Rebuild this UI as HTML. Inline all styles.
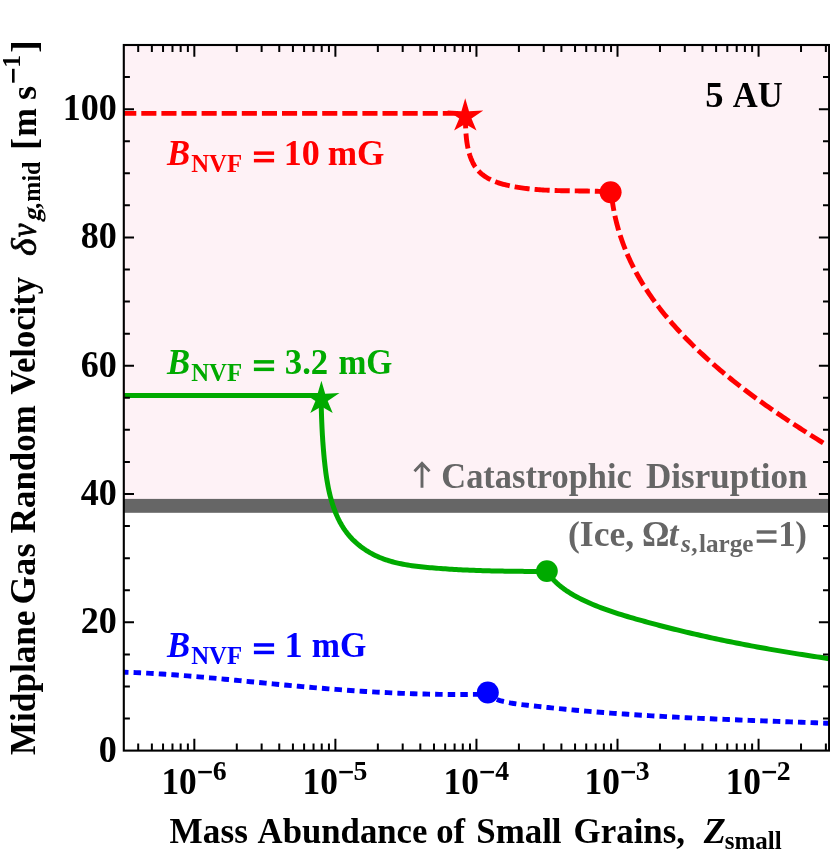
<!DOCTYPE html>
<html><head><meta charset="utf-8"><title>chart</title>
<style>html,body{margin:0;padding:0;background:#fff;overflow:hidden;}svg{display:block;will-change:transform;font-family:"Liberation Serif",serif;font-weight:bold;}</style></head><body>
<svg width="830" height="851" viewBox="0 0 830 851">
<rect x="0" y="0" width="830" height="851" fill="#fff"/>
<rect x="123.8" y="45" width="705.3" height="454.9" fill="#fef2f6"/>
<rect x="123.8" y="498.9" width="705.3" height="13.9" fill="#666"/>
<g fill="#666">
<path d="M422 487.7 V464.2 M414.5 471.2 L422 463.3 L429.5 471.2" fill="none" stroke="#666" stroke-width="2.9" stroke-linejoin="miter"/>
<text transform="translate(441.32 488) scale(0.9831 1)" font-size="35">Catastrophic</text>
<text transform="translate(646.08 488) scale(1.0001 1)" font-size="35">Disruption</text>
<text transform="translate(568.04 545.8) scale(1.0157 1)" font-size="35">(Ice,</text>
<text transform="translate(642.04 545.8) scale(0.9806 1)" font-size="35">Ω</text>
<text x="668.64" y="545.8" font-size="35" font-style="italic">t</text>
<text x="680.94" y="551.8" font-size="25.2" font-style="italic">s</text>
<text x="691.27" y="551.8" font-size="25.2">,</text>
<text transform="translate(699.01 551.8) scale(0.9995 1)" font-size="25.2">large</text>
<rect x="756.7" y="530.3" width="19.8" height="3.4"/>
<rect x="756.7" y="539.4" width="19.8" height="3.4"/>
<text x="778.2" y="545.8" font-size="35">1</text>
<text x="795.37" y="545.8" font-size="35">)</text>
</g>
<clipPath id="cp"><rect x="123.8" y="45" width="705.3" height="705.6"/></clipPath>
<g fill="none" stroke-linejoin="round" clip-path="url(#cp)">
<path d="M121 113.4 H465.2" stroke="#f00" stroke-width="4.9" stroke-dasharray="15.1 5" stroke-dashoffset="19.9"/>
<path d="M465.2 113.4 L465.25 115.1 L465.3 116.69 L465.35 118.28 L465.39 119.88 L465.44 121.49 L465.49 123.12 L465.54 124.74 L465.6 126.38 L465.67 128.02 L465.75 129.67 L465.84 131.33 L465.95 132.99 L466.07 134.65 L466.22 136.32 L466.38 137.99 L466.57 139.67 L466.78 141.34 L467.02 143.02 L467.29 144.7 L467.59 146.37 L467.93 148.05 L468.3 149.73 L468.71 151.4 L469.16 153.06 L469.65 154.71 L470.18 156.34 L470.75 157.94 L471.37 159.52 L472.04 161.06 L472.76 162.57 L473.52 164.04 L474.34 165.46 L475.21 166.82 L476.14 168.13 L477.12 169.38 L478.15 170.58 L479.24 171.72 L480.37 172.81 L481.55 173.84 L482.77 174.83 L484.03 175.77 L485.34 176.66 L486.68 177.5 L488.06 178.3 L489.47 179.06 L490.91 179.78 L492.39 180.46 L493.89 181.11 L495.41 181.71 L496.96 182.29 L498.53 182.83 L500.12 183.34 L501.73 183.82 L503.35 184.27 L504.98 184.7 L506.62 185.1 L508.27 185.48 L509.93 185.84 L511.6 186.18 L513.26 186.5 L514.93 186.8 L516.59 187.09 L518.25 187.36 L519.91 187.62 L521.57 187.87 L523.23 188.1 L524.88 188.32 L526.54 188.52 L528.19 188.72 L529.84 188.9 L531.49 189.07 L533.14 189.23 L534.79 189.38 L536.43 189.52 L538.08 189.65 L539.73 189.77 L541.37 189.88 L543.01 189.98 L544.66 190.08 L546.3 190.17 L547.94 190.25 L549.58 190.32 L551.22 190.39 L552.86 190.45 L554.51 190.5 L556.15 190.55 L557.79 190.6 L559.43 190.64 L561.07 190.68 L562.71 190.71 L564.35 190.74 L565.99 190.77 L567.63 190.79 L569.28 190.81 L570.92 190.84 L572.56 190.86 L574.21 190.88 L575.85 190.9 L577.5 190.92 L579.14 190.94 L580.79 190.96 L582.44 190.98 L584.09 191.01 L585.74 191.04 L587.39 191.06 L589.04 191.1 L590.7 191.13 L592.35 191.17 L594.01 191.22 L595.67 191.27 L597.33 191.32 L598.99 191.38 L600.66 191.45 L602.32 191.52 L603.99 191.6 L605.66 191.69 L607.34 191.78 L609.01 191.88 L610.6 191.8 L611.48 194.37 L611.82 197.33 L612.19 200.28 L612.61 203.21 L613.08 206.13 L613.58 209.04 L614.13 211.93 L614.71 214.81 L615.34 217.67 L616.01 220.52 L616.71 223.35 L617.46 226.17 L618.24 228.98 L619.06 231.77 L619.93 234.54 L620.82 237.3 L621.76 240.05 L622.73 242.77 L623.74 245.49 L624.78 248.18 L625.86 250.86 L626.98 253.53 L628.12 256.17 L629.31 258.81 L630.52 261.42 L631.77 264.02 L633.05 266.6 L634.37 269.16 L635.71 271.71 L637.09 274.24 L638.5 276.75 L639.94 279.24 L641.41 281.72 L642.9 284.18 L644.43 286.62 L645.99 289.05 L647.57 291.46 L649.18 293.85 L650.81 296.23 L652.47 298.59 L654.16 300.94 L655.87 303.27 L657.6 305.58 L659.36 307.88 L661.14 310.16 L662.94 312.42 L664.76 314.67 L666.61 316.91 L668.47 319.13 L670.36 321.33 L672.26 323.52 L674.18 325.7 L676.12 327.86 L678.08 330 L680.06 332.13 L682.05 334.25 L684.05 336.35 L686.08 338.44 L688.11 340.51 L690.16 342.57 L692.23 344.62 L694.3 346.65 L696.39 348.67 L698.49 350.68 L700.61 352.67 L702.73 354.65 L704.87 356.62 L707.01 358.57 L709.17 360.51 L711.34 362.44 L713.52 364.35 L715.71 366.26 L717.91 368.15 L720.12 370.03 L722.33 371.9 L724.56 373.76 L726.8 375.6 L729.05 377.44 L731.3 379.26 L733.57 381.08 L735.84 382.88 L738.12 384.67 L740.41 386.45 L742.71 388.23 L745.02 389.99 L747.33 391.74 L749.65 393.48 L751.98 395.21 L754.32 396.94 L756.66 398.65 L759.01 400.36 L761.37 402.06 L763.73 403.74 L766.1 405.42 L768.47 407.1 L770.85 408.76 L773.24 410.41 L775.63 412.06 L778.03 413.7 L780.43 415.34 L782.84 416.96 L785.25 418.58 L787.66 420.19 L790.08 421.8 L792.51 423.39 L794.94 424.98 L797.37 426.57 L799.8 428.15 L802.24 429.72 L804.68 431.29 L807.13 432.85 L809.58 434.41 L812.03 435.96 L814.48 437.5 L816.93 439.04 L819.39 440.58 L821.85 442.11 L824.31 443.64 L827 444.9" stroke="#f00" stroke-width="4.9" stroke-dasharray="15.1 5" stroke-dashoffset="0"/>
<path d="M121 395.4 L321.4 395.4 L321.06 397.59 L321.1 399.85 L321.15 402.1 L321.2 404.34 L321.25 406.57 L321.31 408.79 L321.37 411.01 L321.44 413.21 L321.51 415.41 L321.58 417.61 L321.67 419.8 L321.75 421.98 L321.85 424.16 L321.94 426.34 L322.05 428.52 L322.16 430.69 L322.28 432.87 L322.4 435.04 L322.54 437.21 L322.67 439.39 L322.82 441.57 L322.98 443.75 L323.14 445.93 L323.31 448.12 L323.49 450.31 L323.68 452.51 L323.87 454.71 L324.08 456.92 L324.29 459.14 L324.52 461.36 L324.76 463.59 L325 465.83 L325.27 468.07 L325.54 470.32 L325.83 472.56 L326.14 474.81 L326.47 477.05 L326.82 479.29 L327.19 481.53 L327.58 483.76 L327.99 485.99 L328.43 488.21 L328.89 490.42 L329.38 492.62 L329.9 494.81 L330.45 496.99 L331.03 499.15 L331.64 501.3 L332.28 503.43 L332.96 505.55 L333.67 507.64 L334.42 509.72 L335.2 511.77 L336.03 513.81 L336.89 515.81 L337.8 517.8 L338.75 519.75 L339.74 521.68 L340.78 523.58 L341.87 525.45 L343 527.29 L344.18 529.09 L345.41 530.86 L346.69 532.6 L348.03 534.3 L349.41 535.96 L350.86 537.58 L352.35 539.16 L353.9 540.7 L355.51 542.2 L357.16 543.66 L358.85 545.07 L360.59 546.44 L362.37 547.76 L364.18 549.03 L366.04 550.26 L367.92 551.44 L369.84 552.57 L371.79 553.65 L373.76 554.69 L375.75 555.66 L377.76 556.59 L379.8 557.47 L381.85 558.29 L383.92 559.07 L386.01 559.8 L388.11 560.49 L390.22 561.13 L392.35 561.74 L394.5 562.31 L396.65 562.84 L398.82 563.33 L400.99 563.79 L403.18 564.22 L405.37 564.62 L407.57 565 L409.78 565.35 L411.99 565.67 L414.21 565.97 L416.43 566.26 L418.66 566.52 L420.89 566.77 L423.11 567 L425.34 567.22 L427.57 567.43 L429.8 567.64 L432.02 567.83 L434.24 568.02 L436.46 568.2 L438.68 568.37 L440.89 568.54 L443.11 568.7 L445.32 568.86 L447.53 569 L449.73 569.15 L451.94 569.28 L454.15 569.41 L456.35 569.54 L458.55 569.66 L460.76 569.77 L462.96 569.88 L465.16 569.99 L467.36 570.09 L469.56 570.18 L471.75 570.27 L473.95 570.35 L476.15 570.44 L478.35 570.51 L480.54 570.58 L482.74 570.65 L484.94 570.72 L487.14 570.78 L489.34 570.84 L491.53 570.89 L493.73 570.94 L495.93 570.99 L498.13 571.03 L500.34 571.08 L502.54 571.11 L504.74 571.15 L506.95 571.19 L509.15 571.22 L511.36 571.25 L513.57 571.27 L515.78 571.3 L518 571.32 L520.21 571.35 L522.43 571.37 L524.65 571.39 L526.87 571.4 L529.09 571.42 L531.31 571.44 L533.54 571.45 L535.77 571.47 L538.01 571.48 L540.24 571.49 L542.48 571.51 L544.73 571.52 L546.9 571.5 L548.6 574.1 L550.51 576.53 L552.53 578.85 L554.62 581.05 L556.81 583.14 L559.06 585.13 L561.39 587.03 L563.79 588.83 L566.24 590.55 L568.74 592.2 L571.3 593.78 L573.89 595.29 L576.52 596.75 L579.18 598.15 L581.86 599.51 L584.57 600.82 L587.31 602.1 L590.06 603.33 L592.84 604.52 L595.64 605.67 L598.45 606.79 L601.28 607.88 L604.13 608.93 L606.99 609.96 L609.87 610.96 L612.76 611.93 L615.65 612.88 L618.56 613.81 L621.47 614.72 L624.39 615.61 L627.32 616.48 L630.25 617.35 L633.18 618.2 L636.12 619.04 L639.05 619.87 L641.99 620.69 L644.92 621.51 L647.86 622.31 L650.8 623.11 L653.74 623.9 L656.67 624.68 L659.61 625.46 L662.55 626.22 L665.5 626.98 L668.44 627.73 L671.38 628.47 L674.32 629.21 L677.27 629.93 L680.21 630.65 L683.16 631.36 L686.11 632.07 L689.06 632.77 L692 633.46 L694.96 634.14 L697.91 634.81 L700.86 635.48 L703.81 636.14 L706.77 636.8 L709.72 637.45 L712.68 638.09 L715.64 638.72 L718.6 639.35 L721.56 639.97 L724.52 640.59 L727.49 641.19 L730.45 641.8 L733.42 642.39 L736.38 642.98 L739.35 643.57 L742.32 644.14 L745.3 644.72 L748.27 645.28 L751.24 645.84 L754.22 646.4 L757.2 646.95 L760.18 647.49 L763.16 648.03 L766.14 648.56 L769.13 649.09 L772.11 649.61 L775.1 650.13 L778.09 650.64 L781.08 651.15 L784.07 651.65 L787.07 652.15 L790.06 652.64 L793.06 653.13 L796.06 653.62 L799.06 654.1 L802.07 654.57 L805.07 655.04 L808.08 655.51 L811.09 655.97 L814.1 656.43 L817.12 656.88 L820.13 657.33 L823.15 657.78 L826.17 658.22 L829.1 658.8" stroke="#0a0" stroke-width="5"/>
<path d="M121 672.4 L124.73 672.21 L128.44 672.33 L132.15 672.47 L135.86 672.63 L139.57 672.79 L143.28 672.97 L146.99 673.16 L150.7 673.36 L154.4 673.58 L158.11 673.8 L161.81 674.03 L165.52 674.28 L169.22 674.53 L172.92 674.79 L176.63 675.06 L180.33 675.34 L184.03 675.63 L187.73 675.92 L191.43 676.22 L195.13 676.53 L198.83 676.84 L202.53 677.16 L206.23 677.49 L209.93 677.82 L213.63 678.15 L217.32 678.49 L221.02 678.84 L224.72 679.19 L228.42 679.54 L232.11 679.89 L235.81 680.25 L239.51 680.6 L243.2 680.96 L246.9 681.32 L250.6 681.69 L254.29 682.05 L257.99 682.41 L261.69 682.77 L265.38 683.14 L269.08 683.5 L272.78 683.85 L276.48 684.21 L280.17 684.57 L283.87 684.92 L287.57 685.27 L291.27 685.61 L294.96 685.96 L298.66 686.29 L302.36 686.63 L306.06 686.96 L309.76 687.28 L313.46 687.6 L317.16 687.91 L320.86 688.22 L324.56 688.52 L328.26 688.82 L331.96 689.11 L335.66 689.39 L339.37 689.67 L343.07 689.94 L346.77 690.21 L350.48 690.47 L354.18 690.72 L357.88 690.97 L361.59 691.2 L365.29 691.44 L369 691.66 L372.7 691.88 L376.41 692.09 L380.12 692.29 L383.82 692.48 L387.53 692.67 L391.24 692.85 L394.95 693.02 L398.66 693.18 L402.37 693.33 L406.08 693.47 L409.79 693.61 L413.5 693.73 L417.21 693.85 L420.92 693.96 L424.63 694.05 L428.35 694.14 L432.06 694.22 L435.78 694.29 L439.49 694.35 L443.2 694.39 L446.92 694.43 L450.64 694.46 L454.35 694.48 L458.07 694.48 L461.79 694.48 L465.51 694.46 L469.23 694.43 L472.95 694.4 L476.67 694.35 L480.39 694.28 L484.11 694.21 L487.8 694.6 L490.56 696.79 L493.67 698.24 L496.84 699.49 L500.08 700.56 L503.38 701.48 L506.73 702.26 L510.11 702.93 L513.53 703.5 L516.97 704 L520.43 704.45 L523.9 704.86 L527.37 705.26 L530.84 705.65 L534.3 706.04 L537.77 706.42 L541.23 706.8 L544.69 707.16 L548.15 707.53 L551.62 707.89 L555.08 708.24 L558.54 708.58 L562 708.92 L565.45 709.26 L568.91 709.58 L572.37 709.91 L575.83 710.22 L579.29 710.53 L582.75 710.84 L586.21 711.14 L589.67 711.43 L593.13 711.72 L596.59 712 L600.06 712.28 L603.52 712.55 L606.98 712.81 L610.45 713.07 L613.91 713.33 L617.37 713.58 L620.84 713.82 L624.3 714.06 L627.77 714.3 L631.24 714.53 L634.7 714.76 L638.17 714.98 L641.64 715.2 L645.1 715.41 L648.57 715.62 L652.04 715.83 L655.51 716.03 L658.98 716.23 L662.45 716.42 L665.91 716.61 L669.38 716.8 L672.85 716.98 L676.32 717.16 L679.79 717.34 L683.27 717.51 L686.74 717.69 L690.21 717.85 L693.68 718.02 L697.15 718.18 L700.62 718.34 L704.09 718.5 L707.57 718.65 L711.04 718.81 L714.51 718.96 L717.98 719.11 L721.45 719.25 L724.93 719.4 L728.4 719.54 L731.87 719.68 L735.34 719.82 L738.82 719.96 L742.29 720.09 L745.76 720.23 L749.24 720.36 L752.71 720.5 L756.18 720.63 L759.66 720.76 L763.13 720.89 L766.6 721.02 L770.07 721.14 L773.55 721.27 L777.02 721.4 L780.49 721.53 L783.96 721.65 L787.44 721.78 L790.91 721.91 L794.38 722.04 L797.85 722.16 L801.33 722.29 L804.8 722.42 L808.27 722.55 L811.74 722.67 L815.21 722.8 L818.68 722.93 L822.15 723.06 L825.62 723.2 L829.1 723.3" stroke="#00f" stroke-width="4.9" stroke-dasharray="7.5 5.1" stroke-dashoffset="0"/>
</g>
<polygon points="465.2,98.3 469,111.3 483.3,110.5 471.5,118.6 476.5,130.5 465.2,124 454.1,130.6 459.2,118.6 447.3,110.5 461.4,111.3" fill="#f00"/>
<circle cx="610.6" cy="192.2" r="11" fill="#f00"/>
<polygon points="321.4,380.7 325.2,393.7 339.5,392.9 327.7,401 332.7,412.9 321.4,406.4 310.3,413 315.4,401 303.5,392.9 317.6,393.7" fill="#0a0"/>
<circle cx="546.9" cy="571.1" r="10.9" fill="#0a0"/>
<circle cx="487.8" cy="692.5" r="11" fill="#00f"/>
<path d="M138.2 750.6 v-7 M138.2 45 v7 M151.87 750.6 v-7 M151.87 45 v7 M163.04 750.6 v-7 M163.04 45 v7 M172.48 750.6 v-7 M172.48 45 v7 M180.66 750.6 v-7 M180.66 45 v7 M187.88 750.6 v-7 M187.88 45 v7 M194.33 750.6 v-11.8 M194.33 45 v11.8 M236.79 750.6 v-7 M236.79 45 v7 M261.63 750.6 v-7 M261.63 45 v7 M279.26 750.6 v-7 M279.26 45 v7 M292.93 750.6 v-7 M292.93 45 v7 M304.1 750.6 v-7 M304.1 45 v7 M313.54 750.6 v-7 M313.54 45 v7 M321.72 750.6 v-7 M321.72 45 v7 M328.94 750.6 v-7 M328.94 45 v7 M335.39 750.6 v-11.8 M335.39 45 v11.8 M377.85 750.6 v-7 M377.85 45 v7 M402.69 750.6 v-7 M402.69 45 v7 M420.32 750.6 v-7 M420.32 45 v7 M433.99 750.6 v-7 M433.99 45 v7 M445.16 750.6 v-7 M445.16 45 v7 M454.6 750.6 v-7 M454.6 45 v7 M462.78 750.6 v-7 M462.78 45 v7 M470 750.6 v-7 M470 45 v7 M476.45 750.6 v-11.8 M476.45 45 v11.8 M518.91 750.6 v-7 M518.91 45 v7 M543.75 750.6 v-7 M543.75 45 v7 M561.38 750.6 v-7 M561.38 45 v7 M575.05 750.6 v-7 M575.05 45 v7 M586.22 750.6 v-7 M586.22 45 v7 M595.66 750.6 v-7 M595.66 45 v7 M603.84 750.6 v-7 M603.84 45 v7 M611.06 750.6 v-7 M611.06 45 v7 M617.51 750.6 v-11.8 M617.51 45 v11.8 M659.97 750.6 v-7 M659.97 45 v7 M684.81 750.6 v-7 M684.81 45 v7 M702.44 750.6 v-7 M702.44 45 v7 M716.11 750.6 v-7 M716.11 45 v7 M727.28 750.6 v-7 M727.28 45 v7 M736.72 750.6 v-7 M736.72 45 v7 M744.9 750.6 v-7 M744.9 45 v7 M752.12 750.6 v-7 M752.12 45 v7 M758.57 750.6 v-11.8 M758.57 45 v11.8 M801.03 750.6 v-7 M801.03 45 v7 M825.87 750.6 v-7 M825.87 45 v7 M123.8 718.53 h6.1 M829.1 718.53 h-6.1 M123.8 686.45 h6.1 M829.1 686.45 h-6.1 M123.8 654.38 h6.1 M829.1 654.38 h-6.1 M123.8 622.31 h10.2 M829.1 622.31 h-10.2 M123.8 590.24 h6.1 M829.1 590.24 h-6.1 M123.8 558.16 h6.1 M829.1 558.16 h-6.1 M123.8 526.09 h6.1 M829.1 526.09 h-6.1 M123.8 494.02 h10.2 M829.1 494.02 h-10.2 M123.8 461.95 h6.1 M829.1 461.95 h-6.1 M123.8 429.87 h6.1 M829.1 429.87 h-6.1 M123.8 397.8 h6.1 M829.1 397.8 h-6.1 M123.8 365.73 h10.2 M829.1 365.73 h-10.2 M123.8 333.65 h6.1 M829.1 333.65 h-6.1 M123.8 301.58 h6.1 M829.1 301.58 h-6.1 M123.8 269.51 h6.1 M829.1 269.51 h-6.1 M123.8 237.44 h10.2 M829.1 237.44 h-10.2 M123.8 205.36 h6.1 M829.1 205.36 h-6.1 M123.8 173.29 h6.1 M829.1 173.29 h-6.1 M123.8 141.22 h6.1 M829.1 141.22 h-6.1 M123.8 109.15 h10.2 M829.1 109.15 h-10.2 M123.8 77.07 h6.1 M829.1 77.07 h-6.1" stroke="#000" stroke-width="2" fill="none"/>
<rect x="123.8" y="45" width="705.3" height="705.6" fill="none" stroke="#000" stroke-width="2.1"/>
<g fill="#000">
<text transform="translate(116.9 761.6) scale(0.95 1)" text-anchor="end" font-size="38">0</text>
<text transform="translate(116.9 633.31) scale(0.95 1)" text-anchor="end" font-size="38">20</text>
<text transform="translate(116.9 505.02) scale(0.95 1)" text-anchor="end" font-size="38">40</text>
<text transform="translate(116.9 376.73) scale(0.95 1)" text-anchor="end" font-size="38">60</text>
<text transform="translate(116.9 248.44) scale(0.95 1)" text-anchor="end" font-size="38">80</text>
<text transform="translate(116.9 120.15) scale(0.95 1)" text-anchor="end" font-size="38">100</text>
<text transform="translate(161.4 793.5) scale(0.9311 1)" font-size="38">10</text>
<rect x="198.23" y="770.9" width="13.6" height="2.4"/>
<text transform="translate(212.68 780) scale(1.0300 1)" font-size="27">6</text>
<text transform="translate(302.46 793.5) scale(0.9311 1)" font-size="38">10</text>
<rect x="339.29" y="770.9" width="13.6" height="2.4"/>
<text transform="translate(353.58 780) scale(1.0300 1)" font-size="27">5</text>
<text transform="translate(443.52 793.5) scale(0.9311 1)" font-size="38">10</text>
<rect x="480.35" y="770.9" width="13.6" height="2.4"/>
<text transform="translate(495.37 780) scale(1.0300 1)" font-size="27">4</text>
<text transform="translate(584.58 793.5) scale(0.9311 1)" font-size="38">10</text>
<rect x="621.41" y="770.9" width="13.6" height="2.4"/>
<text transform="translate(635.76 780) scale(1.0300 1)" font-size="27">3</text>
<text transform="translate(725.64 793.5) scale(0.9311 1)" font-size="38">10</text>
<rect x="762.47" y="770.9" width="13.6" height="2.4"/>
<text transform="translate(776.7 780) scale(1.0300 1)" font-size="27">2</text>
<text transform="translate(705.33 106.6) scale(1.0461 1)" font-size="35">5</text>
<text transform="translate(732.86 106.6) scale(0.9891 1)" font-size="35">AU</text>
<text transform="translate(169.6 843.2) scale(1.0062 1)" font-size="35">Mass</text>
<text transform="translate(257.56 843.2) scale(0.9922 1)" font-size="35">Abundance</text>
<text transform="translate(436.28 843.2) scale(0.9906 1)" font-size="35">of</text>
<text transform="translate(476.24 843.2) scale(0.9975 1)" font-size="35">Small</text>
<text transform="translate(573.6 843.2) scale(0.9975 1)" font-size="35">Grains,</text>
<text transform="translate(703.69 843.2) scale(1.0303 1)" font-size="35" font-style="italic">Z</text>
<text transform="translate(724.64 848.9) scale(0.9945 1)" font-size="25.2">small</text>
<g transform="translate(35.2 760) rotate(-90)">
<text transform="translate(4.9 0) scale(1.0048 1)" font-size="35">Midplane</text>
<text transform="translate(155.61 0) scale(1.0469 1)" font-size="35">Gas</text>
<text transform="translate(226.8 0) scale(0.9971 1)" font-size="35">Random</text>
<text transform="translate(365.21 0) scale(0.9884 1)" font-size="35">Velocity</text>
<text transform="translate(504.1 0.6) scale(1.0761 1)" font-size="35" font-style="italic" font-weight="normal" stroke="#000" stroke-width="0.7">δ</text>
<text transform="translate(522.99 0.6) scale(0.8568 1)" font-size="35" font-style="italic" font-weight="normal" stroke="#000" stroke-width="0.9">v</text>
<text transform="translate(538.33 5.2) scale(1.0095 1) skewX(-14)" font-size="25.2">g</text>
<text x="551.07" y="5.2" font-size="25.2">,</text>
<text transform="translate(558.35 5.2) scale(0.9550 1)" font-size="25.2">mid</text>
<text x="610.2" y="0.3" font-size="35">[</text>
<text transform="translate(623.27 0.3) scale(0.9849 1)" font-size="35">m</text>
<text transform="translate(659.9 0.3) scale(1.0336 1)" font-size="35">s</text>
<rect x="677.3" y="-23.2" width="13.9" height="2.6"/>
<text transform="translate(692.33 -15.2) scale(1.0321 1)" font-size="25">1</text>
<text transform="translate(706.99 0.3) scale(1.1164 1)" font-size="35">]</text>
</g>
</g>
<g fill="#f00"><text transform="translate(167.02 165.4) scale(0.9924 1)" font-size="35" font-style="italic">B</text><text transform="translate(191.13 171.8) scale(0.9839 1)" font-size="25.2">NVF</text><rect x="253.9" y="151.4" width="20.2" height="3.5"/><rect x="253.9" y="158.9" width="20.2" height="3.5"/><text transform="translate(283.71 165.4) scale(1.0303 1)" font-size="35">10</text><text transform="translate(327.65 165.4) scale(1.0077 1)" font-size="35">mG</text></g>
<g fill="#0a0"><text transform="translate(167.02 374.1) scale(0.9924 1)" font-size="35" font-style="italic">B</text><text transform="translate(191.13 380.5) scale(0.9839 1)" font-size="25.2">NVF</text><rect x="253.9" y="360.1" width="20.2" height="3.5"/><rect x="253.9" y="367.6" width="20.2" height="3.5"/><text transform="translate(284.79 374.1) scale(0.9919 1)" font-size="35">3.2</text><text transform="translate(338.4 374.1) scale(0.9581 1)" font-size="35">mG</text></g>
<g fill="#00f"><text transform="translate(167.02 657.2) scale(0.9924 1)" font-size="35" font-style="italic">B</text><text transform="translate(191.13 663.6) scale(0.9839 1)" font-size="25.2">NVF</text><rect x="253.9" y="643.2" width="20.2" height="3.5"/><rect x="253.9" y="650.7" width="20.2" height="3.5"/><text transform="translate(284.39 657.2) scale(1.0399 1)" font-size="35">1</text><text transform="translate(311.79 657.2) scale(0.9691 1)" font-size="35">mG</text></g>
</svg></body></html>
